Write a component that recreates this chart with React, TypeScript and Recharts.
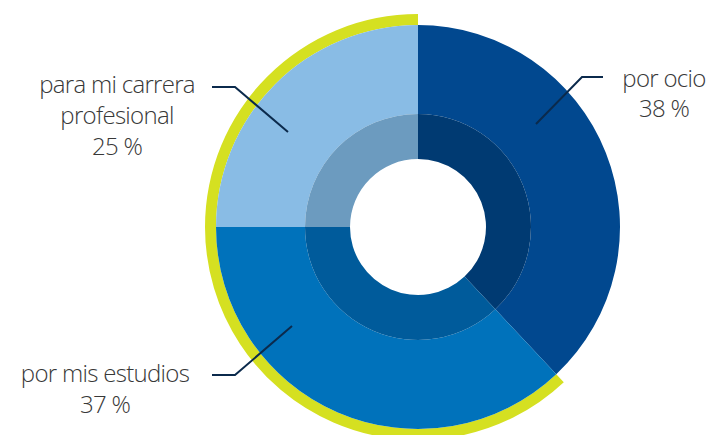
import { Cell, Pie, PieChart } from "recharts";

const CATEGORIES = ["por ocio", "por mis estudios", "para mi carrera profesional"];
const VALUES = [38, 37, 25];
const LABEL_LINES = [["por ocio", "38 %"], ["por mis estudios", "37 %"], ["para mi carrera", "profesional", "25 %"]];
const HIGHLIGHT = [false, true, true];

const OUTER_COLORS = ["#01488f", "#0072bb", "#89bce5"];
const INNER_COLORS = ["#003a72", "#005b9b", "#6c9bbf"];
const HIGHLIGHT_COLOR = "#d5e021";

// label layout, offsets relative to the pie centre (not data)
const LABEL_LAYOUT = [
  { end: [118, -103], bend: [164, -150], start: [185, -150], text: [246, -140], gap: 30 },
  { end: [-126, 99], bend: [-183, 148], start: [-206, 148], text: [-313, 155], gap: 31 },
  { end: [-130, -95], bend: [-183, -140], start: [-206, -140], text: [-301, -134], gap: 31 },
];

const data = CATEGORIES.map((name, i) => ({ name, value: VALUES[i] }));

function renderLabel(props: any) {
  const { cx, cy, index } = props;
  const l = LABEL_LAYOUT[index];
  const pts = [l.end, l.bend, l.start].map(([x, y]) => `${cx + x},${cy + y}`).join(" ");
  return (
    <g key={`lbl-${index}`}>
      <polyline points={pts} fill="none" stroke="#0b2a4c" strokeWidth={2} />
      <text
        x={cx + l.text[0]}
        y={cy + l.text[1]}
        textAnchor="middle"
        fontFamily="'Open Sans', sans-serif"
        fontWeight={300}
        fontSize={24}
        letterSpacing={-0.7}
        fill="#383838"
      >
        {LABEL_LINES[index].map((t, j) => (
          <tspan key={j} x={cx + l.text[0]} dy={j === 0 ? 0 : l.gap}>
            {t}
          </tspan>
        ))}
      </text>
    </g>
  );
}

export default function App() {
  return (
    <div style={{ position: "absolute", left: 0, top: 0, background: "#fff" }}>
      <PieChart width={712} height={435} margin={{ top: 0, right: 0, bottom: 0, left: 0 }}>
        <Pie
          data={data}
          dataKey="value"
          cx={418}
          cy={227}
          startAngle={90}
          endAngle={-270}
          innerRadius={202}
          outerRadius={213}
          stroke="none"
          isAnimationActive={false}
        >
          {data.map((d, i) => (
            <Cell key={d.name} fill={HIGHLIGHT[i] ? HIGHLIGHT_COLOR : "transparent"} />
          ))}
        </Pie>
        <Pie
          data={data}
          dataKey="value"
          cx={418}
          cy={227}
          startAngle={90}
          endAngle={-270}
          innerRadius={113}
          outerRadius={202}
          stroke="none"
          isAnimationActive={false}
        >
          {data.map((d, i) => (
            <Cell key={d.name} fill={OUTER_COLORS[i]} />
          ))}
        </Pie>
        <Pie
          data={data}
          dataKey="value"
          cx={418}
          cy={227}
          startAngle={90}
          endAngle={-270}
          innerRadius={68}
          outerRadius={113}
          stroke="none"
          isAnimationActive={false}
          label={renderLabel}
          labelLine={false}
        >
          {data.map((d, i) => (
            <Cell key={d.name} fill={INNER_COLORS[i]} />
          ))}
        </Pie>
      </PieChart>
    </div>
  );
}
